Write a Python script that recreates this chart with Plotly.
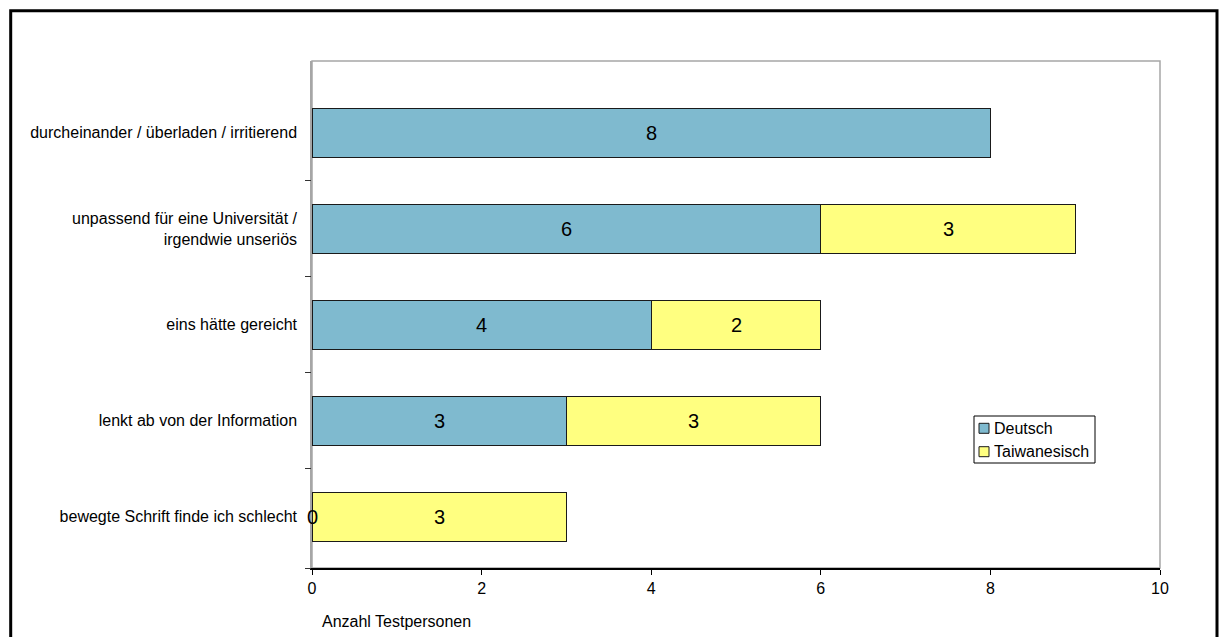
import plotly.graph_objects as go

# Survey: negative remarks about animated elements, by participant group
categories = [
    "durcheinander / überladen / irritierend",
    "unpassend für eine Universität /<br>irgendwie unseriös",
    "eins hätte gereicht",
    "lenkt ab von der Information",
    "bewegte Schrift finde ich schlecht",
]
deutsch = [8, 6, 4, 3, 0]
taiwanesisch = [None, 3, 2, 3, 3]
x_ticks = [0, 2, 4, 6, 8, 10]
series_names = ["Deutsch", "Taiwanesisch"]

BLUE = "#7FBACF"
YELLOW = "#FFFF80"
FONT = "Liberation Sans, Arial, sans-serif"
OUTLINE = "#1a1a1a"

# plot area spans 848 x 507 px; helpers to place decorations in pixel terms
L, T, W, H = 312, 61, 848, 507
def px(xp):
    return (xp - L) / W
def py(yp):
    return (T + H - yp) / H

Y_RANGE = [4.533, -0.748]

fig = go.Figure()
for name, vals, col in zip(series_names, [deutsch, taiwanesisch], [BLUE, YELLOW]):
    fig.add_trace(go.Bar(
        y=categories, x=[v if v is not None else 0 for v in vals], name=name,
        orientation="h", width=0.51,
        marker=dict(color=col, line=dict(color=OUTLINE, width=1)),
        showlegend=False, hoverinfo="x+y+name",
    ))

# helper trace carrying the boundary ticks of the category axis
fig.add_trace(go.Scatter(x=[None], y=[None], yaxis="y2", showlegend=False, hoverinfo="skip"))

# value labels centred on each segment
annotations = []
for cat, d, t in zip(categories, deutsch, taiwanesisch):
    annotations.append(dict(x=d / 2, y=cat, xref="x", yref="y", text=str(d),
                            showarrow=False, font=dict(size=20, color="black", family=FONT)))
    if t is not None:
        annotations.append(dict(x=d + t / 2, y=cat, xref="x", yref="y", text=str(t),
                                showarrow=False, font=dict(size=20, color="black", family=FONT)))

# axis title
annotations.append(dict(x=px(320), y=py(621), xref="paper", yref="paper",
                        text="Anzahl Testpersonen", showarrow=False,
                        xanchor="left", yanchor="middle",
                        font=dict(size=16, color="black", family=FONT)))

shapes = [
    # plot-area frame
    dict(type="rect", xref="paper", yref="paper", x0=0, x1=1, y0=0, y1=1,
         line=dict(color="#A6A6A6", width=1.5), layer="below"),
    # outer chart border
    dict(type="rect", xref="paper", yref="paper", x0=px(10.7), x1=px(1217),
         y0=py(660), y1=py(10.7), line=dict(color="black", width=3)),
    # legend box
    dict(type="rect", xref="paper", yref="paper", x0=px(974), x1=px(1095),
         y0=py(463), y1=py(416), line=dict(color="black", width=1), fillcolor="white"),
]

# legend entries
for name, col, yc in zip(series_names, [BLUE, YELLOW], [428.3, 451.7]):
    shapes.append(dict(type="rect", xref="paper", yref="paper",
                       x0=px(979), x1=px(989), y0=py(yc + 5), y1=py(yc - 5),
                       line=dict(color=OUTLINE, width=1), fillcolor=col))
    annotations.append(dict(x=px(992), y=py(yc), xref="paper", yref="paper", text=name,
                            showarrow=False, xanchor="left", yanchor="middle",
                            font=dict(size=16, color="black", family=FONT)))

fig.update_layout(
    width=1219, height=637,
    barmode="stack",
    paper_bgcolor="white", plot_bgcolor="white",
    margin=dict(l=L, r=1219 - L - W, t=T, b=637 - T - H),
    font=dict(family=FONT, color="black"),
    showlegend=False,
    annotations=annotations,
    shapes=shapes,
    yaxis=dict(range=Y_RANGE, ticks="outside", ticklen=6,
               tickcolor="rgba(0,0,0,0)", showline=True, linecolor="#A6A6A6",
               linewidth=1.5, showgrid=False, tickfont=dict(size=16),
               ticklabelstandoff=4),
    yaxis2=dict(overlaying="y", side="left", range=Y_RANGE,
                tickvals=[0.5, 1.5, 2.5, 3.5, 4.533], ticks="outside", ticklen=6,
                tickcolor="#333333", showticklabels=False, showline=False,
                showgrid=False, zeroline=False, fixedrange=True),
)
fig.update_xaxes(range=[0, 10], tickvals=x_ticks, ticks="outside", ticklen=5,
                 tickcolor="black", showline=True, linecolor="black", linewidth=1.5,
                 showgrid=False, zeroline=False, tickfont=dict(size=16))

fig.write_html("out.html")
